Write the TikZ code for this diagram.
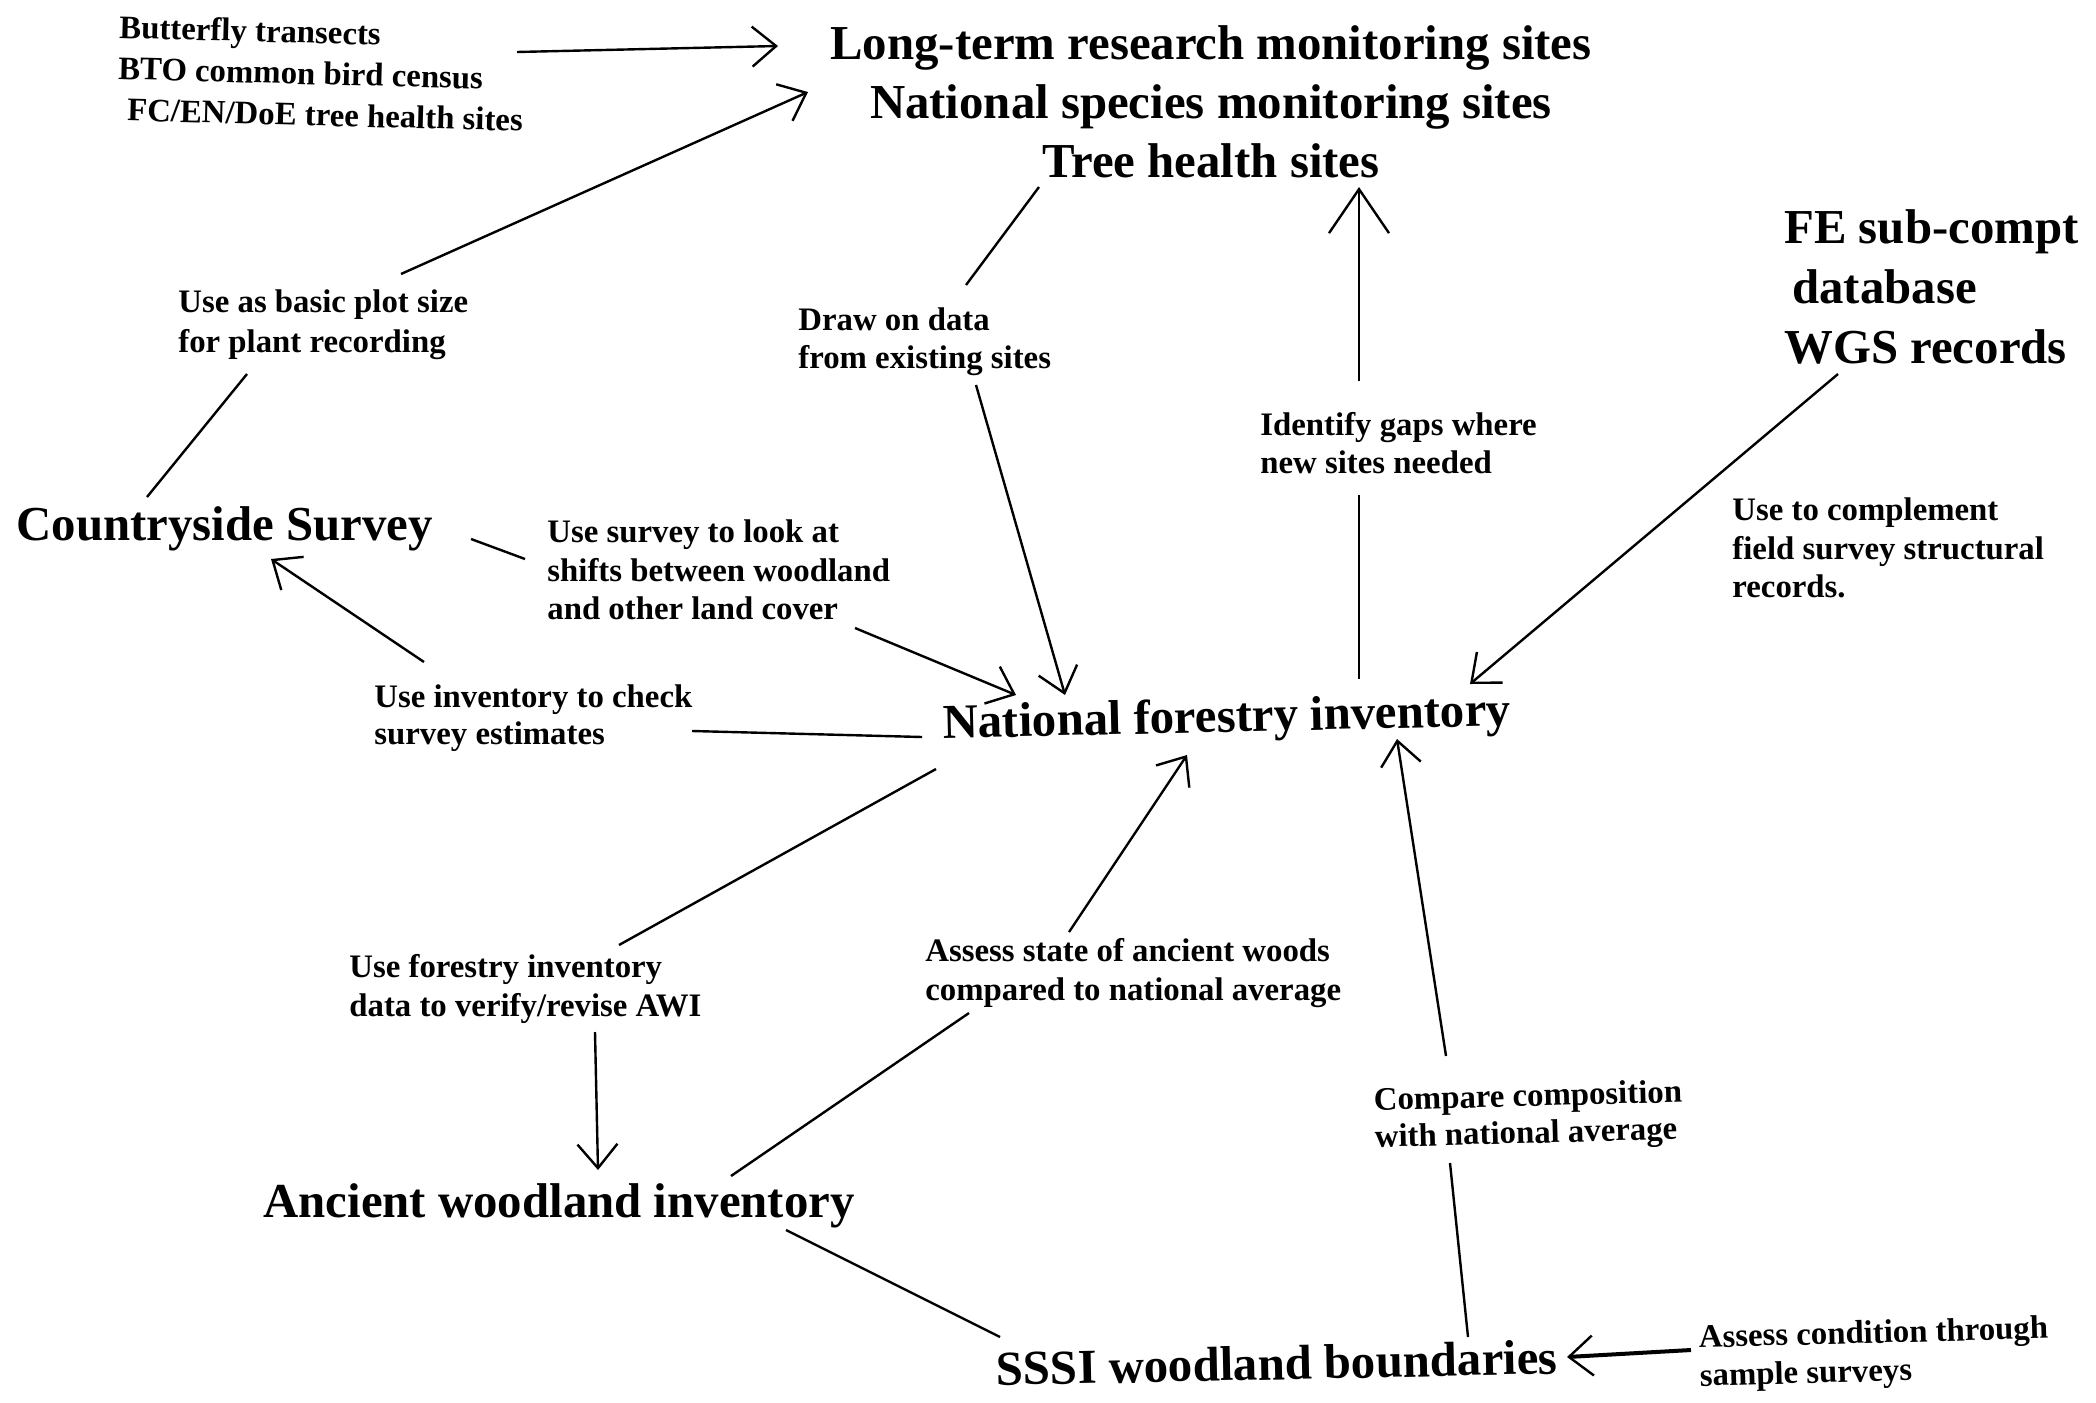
\documentclass[tikz,border=0pt]{standalone}
\usepackage{fontspec}
\setmainfont{Liberation Serif}
\usetikzlibrary{arrows.meta}
\begin{document}
\begin{tikzpicture}[x=0.5pt,y=-0.5pt,
  big/.style={font=\bfseries\fontsize{24.4}{29.5}\selectfont, inner sep=0pt, align=center},
  small/.style={font=\bfseries\fontsize{16.4}{19.2}\selectfont, inner sep=0pt, align=left, anchor=west},
  link/.style={line width=1.2pt},
  arr/.style={line width=1.2pt, -{Straight Barb[length=12pt,width=20pt,line width=1.2pt]}},
  bigarr/.style={line width=1.2pt, -{Straight Barb[length=22pt,width=30pt,line width=1.2pt]}}]
\fill[white] (0,0) rectangle (2096,1402);
\useasboundingbox (0,0) rectangle (2096,1402);

% main nodes
\node[big] (top) at (1211,102) {Long-term research monitoring sites\\National species monitoring sites\\Tree health sites};
\node[small, font=\bfseries\fontsize{16.4}{20.6}\selectfont, rotate=-1.5] (bfly) at (118,68) {Butterfly transects\\BTO common bird census\\\hspace{5pt}FC/EN/DoE tree health sites};
\node[big, align=left, anchor=west, font=\bfseries\fontsize{24.4}{30}\selectfont] (fe) at (1784,287) {FE sub-compt\\\hspace{4pt}database\\WGS records};
\node[big, anchor=west] (cs) at (16,529) {Countryside Survey};
\node[big, rotate=1.3] (nfi) at (1227,720) {National forestry inventory};
\node[big] (awi) at (559,1206) {Ancient woodland inventory};
\node[big, rotate=1.2] (sssi) at (1277,1363) {SSSI woodland boundaries};

% labels
\node[small, font=\bfseries\fontsize{16.4}{20}\selectfont] (lplot) at (178,325) {Use as basic plot size\\for plant recording};
\node[small] (ldraw) at (798,342) {Draw on data\\from existing sites};
\node[small] (lgaps) at (1260,443) {Identify gaps where\\new sites needed};
\node[small] (lcomp) at (1732,548) {Use to complement\\field survey structural\\records.};
\node[small] (lshift) at (547,570) {Use survey to look at\\shifts between woodland\\and other land cover};
\node[small, font=\bfseries\fontsize{16.4}{18.5}\selectfont] (lcheck) at (374,718) {Use inventory to check\\survey estimates};
\node[small] (lawi) at (349,989) {Use forestry inventory\\data to verify/revise AWI};
\node[small] (lstate) at (925,973) {Assess state of ancient woods\\compared to national average};
\node[small, font=\bfseries\fontsize{16.4}{18.5}\selectfont, rotate=1.5] (lcompo) at (1374,1121) {Compare composition\\with national average};
\node[small, rotate=1.5] (lcond) at (1699,1359) {Assess condition through\\sample surveys};

% connector end points
\coordinate (bflyE) at (517,52);   \coordinate (topW1) at (778,46);
\coordinate (csN) at (147,497);    \coordinate (plotS) at (247,374);
\coordinate (plotN) at (401,274);  \coordinate (topW2) at (808,92);
\coordinate (topS1) at (1039,187); \coordinate (drawN) at (966,285);
\coordinate (drawS) at (976,385);  \coordinate (nfiN1) at (1065,695);
\coordinate (nfiN2) at (1359,679); \coordinate (gapsS) at (1359,495);
\coordinate (gapsN) at (1359,381); \coordinate (topS2) at (1359,187);
\coordinate (feS) at (1838,374);   \coordinate (nfiNE) at (1470,684);
\coordinate (csE) at (471,539);    \coordinate (shiftW) at (525,559);
\coordinate (shiftS) at (855,628); \coordinate (nfiW1) at (1016,695);
\coordinate (nfiW2) at (922,737);  \coordinate (checkE) at (692,731);
\coordinate (checkN) at (424,662); \coordinate (csS) at (271,559);
\coordinate (nfiSW) at (936,769);  \coordinate (awilN) at (619,945);
\coordinate (awilS) at (595,1032); \coordinate (awiN) at (598,1170);
\coordinate (awiNE) at (731,1176); \coordinate (stateS) at (969,1013);
\coordinate (stateN) at (1069,932);\coordinate (nfiS1) at (1187,755);
\coordinate (sssiN) at (1468,1337);\coordinate (compoS) at (1450,1163);
\coordinate (compoN) at (1446,1056);\coordinate (nfiS2) at (1397,739);
\coordinate (awiSE) at (786,1230); \coordinate (sssiW) at (1000,1337);
\coordinate (condW) at (1691,1350);\coordinate (sssiE) at (1567,1357);

% connectors
\draw[arr] (bflyE) -- (topW1);
\draw[link] (csN) -- (plotS);
\draw[arr] (plotN) -- (topW2);
\draw[link] (topS1) -- (drawN);
\draw[arr] (drawS) -- (nfiN1);
\draw[link] (nfiN2) -- (gapsS);
\draw[bigarr] (gapsN) -- (topS2);
\draw[arr] (feS) -- (nfiNE);
\draw[link] (csE) -- (shiftW);
\draw[arr] (shiftS) -- (nfiW1);
\draw[link] (nfiW2) -- (checkE);
\draw[arr] (checkN) -- (csS);
\draw[link] (nfiSW) -- (awilN);
\draw[arr] (awilS) -- (awiN);
\draw[link] (awiNE) -- (stateS);
\draw[arr] (stateN) -- (nfiS1);
\draw[link] (sssiN) -- (compoS);
\draw[arr] (compoN) -- (nfiS2);
\draw[link] (awiSE) -- (sssiW);
\draw[arr, line width=2pt] (condW) -- (sssiE);
\end{tikzpicture}
\end{document}
